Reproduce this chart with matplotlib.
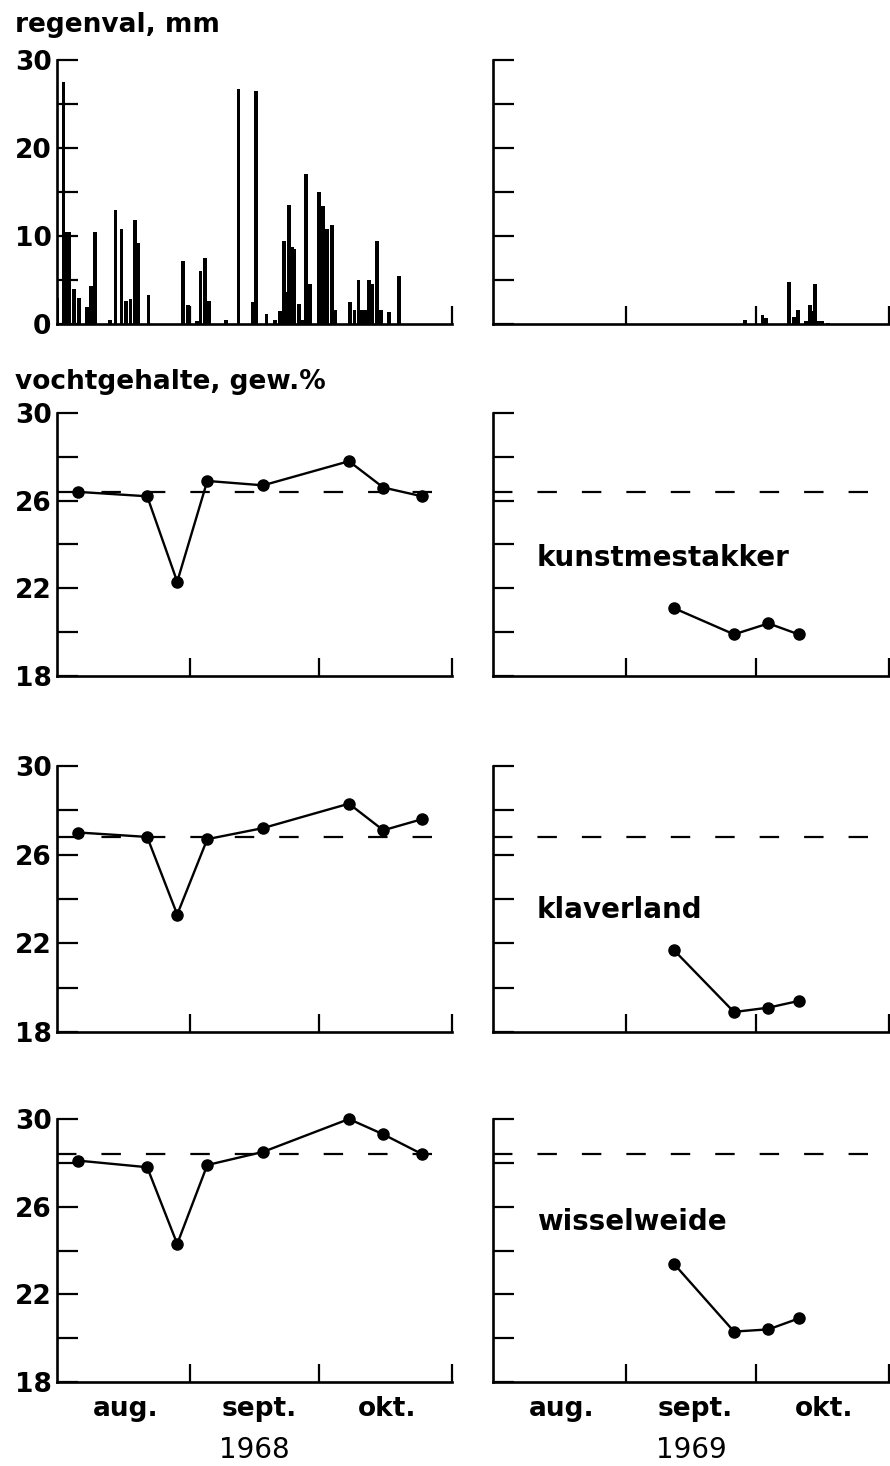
import numpy as np
import matplotlib
matplotlib.use('Agg')
import matplotlib.pyplot as plt

plt.rcParams['font.family'] = 'DejaVu Sans'
plt.rcParams['font.weight'] = 'bold'
plt.rcParams['lines.scale_dashes'] = False

# %% Data (dagen geteld vanaf 1 augustus)
rain_day_1968 = [0.1, 1.5, 2.2, 2.9, 4.0, 5.1, 7.0, 7.9, 8.9, 12.4, 13.6, 15.0, 16.1, 17.1,
                 18.2, 19.0, 21.3, 29.3, 30.5, 32.6, 33.4, 34.5, 35.4, 39.4, 42.3, 45.7,
                 46.3, 48.8, 50.8, 52.0, 52.8, 53.5, 54.1, 54.7, 55.2, 56.4, 57.2, 58.0,
                 58.9, 61.0, 61.9, 62.9, 64.0, 64.9, 68.3, 69.3, 70.2, 70.9, 71.8, 72.6,
                 73.3, 74.5, 75.4, 77.3, 79.7]
rain_mm_1968 = [3.0, 27.5, 10.5, 10.5, 4.0, 3.0, 1.9, 4.3, 10.5, 0.4, 12.9, 10.8, 2.6, 2.8,
                11.8, 9.2, 3.3, 7.2, 2.2, 0.3, 6.0, 7.5, 2.6, 0.5, 26.7, 2.5,
                26.5, 1.1, 0.5, 1.5, 9.4, 3.6, 13.5, 8.7, 8.5, 2.3, 0.5, 17.1,
                4.6, 15.0, 13.4, 10.8, 11.3, 1.6, 2.5, 1.6, 5.0, 1.6, 1.6, 5.0,
                4.6, 9.4, 1.6, 1.4, 5.4]

rain_day_1969 = [58.6, 62.6, 63.4, 68.8, 70.0, 70.9, 72.7, 73.7, 74.3, 74.8, 75.6, 76.5, 77.9]
rain_mm_1969 = [0.4, 1.0, 0.7, 4.8, 0.8, 1.6, 0.3, 2.2, 1.5, 4.6, 0.3, 0.3, 0.1]

meet_1968 = [5, 21, 28, 35, 48, 68, 76, 85]
meet_1969 = [42, 56, 64, 71]

kunst_1968 = [26.4, 26.2, 22.3, 26.9, 26.7, 27.8, 26.6, 26.2]
kunst_1969 = [21.1, 19.9, 20.4, 19.9]
klaver_1968 = [27.0, 26.8, 23.3, 26.7, 27.2, 28.3, 27.1, 27.6]
klaver_1969 = [21.7, 18.9, 19.1, 19.4]
wissel_1968 = [28.1, 27.8, 24.3, 27.9, 28.5, 30.0, 29.3, 28.4]
wissel_1969 = [23.4, 20.3, 20.4, 20.9]

gemiddeld = [26.4, 26.8, 28.4]
percelen = ['kunstmestakker', 'klaverland', 'wisselweide']
label_hoogte = [0.45, 0.46, 0.61]

maand_grens = [31, 61, 92]
maand_midden = [16, 47, 77]
maanden = ['aug.', 'sept.', 'okt.']

W, H = 890, 1466
fig = plt.figure(figsize=(W / 100, H / 100), dpi=100)


def box(x0, x1, ytop, ybot):
    return [x0 / W, 1 - ybot / H, (x1 - x0) / W, (ybot - ytop) / H]


def stijl(ax, ylim, major, minor, labels, onderste, jaar):
    for s in ['top', 'right']:
        ax.spines[s].set_visible(False)
    for s in ['left', 'bottom']:
        ax.spines[s].set_linewidth(1.9)
    ax.set_xlim(0, 92)
    ax.set_ylim(*ylim)
    ax.set_yticks(major)
    ax.set_yticks(minor, minor=True)
    if labels:
        ax.set_yticklabels([f'{v:g}' for v in major])
    else:
        ax.set_yticklabels([])
    ax.tick_params(axis='y', which='both', direction='in', length=15, width=1.6,
                   labelsize=19, pad=4)
    ax.set_xticks(maand_grens)
    ax.set_xticklabels([])
    ax.tick_params(axis='x', which='major', direction='in', length=13, width=1.6)
    if onderste:
        ax.set_xticks(maand_midden, minor=True)
        ax.set_xticklabels(maanden, minor=True)
        ax.tick_params(axis='x', which='minor', length=0, labelsize=19, pad=10)
        ax.set_xlabel(jaar, fontsize=20, fontweight='normal', labelpad=10)


# regenval
x_links, x_rechts = (57, 452), (493, 889)
for (x0, x1), dagen, mm, lab in [(x_links, rain_day_1968, rain_mm_1968, True),
                                 (x_rechts, rain_day_1969, rain_mm_1969, False)]:
    ax = fig.add_axes(box(x0, x1, 60, 324))
    ax.bar(dagen, mm, width=0.85, color='black')
    stijl(ax, (0, 30), [0, 10, 20, 30], [5, 15, 25], lab, False, '')

# vochtgehalte
rijen = [(413, 676), (766, 1032), (1119, 1382)]
reeksen_1968 = [kunst_1968, klaver_1968, wissel_1968]
reeksen_1969 = [kunst_1969, klaver_1969, wissel_1969]
for i, (ytop, ybot) in enumerate(rijen):
    onderste = i == 2
    for (x0, x1), dagen, waarden, lab, jaar in [(x_links, meet_1968, reeksen_1968[i], True, '1968'),
                                                (x_rechts, meet_1969, reeksen_1969[i], False, '1969')]:
        ax = fig.add_axes(box(x0, x1, ytop, ybot))
        ax.plot([0, 88], [gemiddeld[i], gemiddeld[i]], color='black', lw=1.6,
                dashes=(14, 18), clip_on=False)
        ax.plot(dagen, waarden, color='black', lw=1.7, marker='o', markersize=8,
                clip_on=False)
        stijl(ax, (18, 30), [18, 22, 26, 30], [20, 24, 28], lab, onderste, jaar)
        if not lab:
            ax.text(0.11, label_hoogte[i], percelen[i], transform=ax.transAxes,
                    fontsize=20, ha='left', va='center')

fig.text(15 / W, 1 - 25 / H, 'regenval, mm', fontsize=19, ha='left', va='center')
fig.text(15 / W, 1 - 382 / H, 'vochtgehalte, gew.%', fontsize=19, ha='left', va='center')

fig.savefig('out.png', dpi=100)
